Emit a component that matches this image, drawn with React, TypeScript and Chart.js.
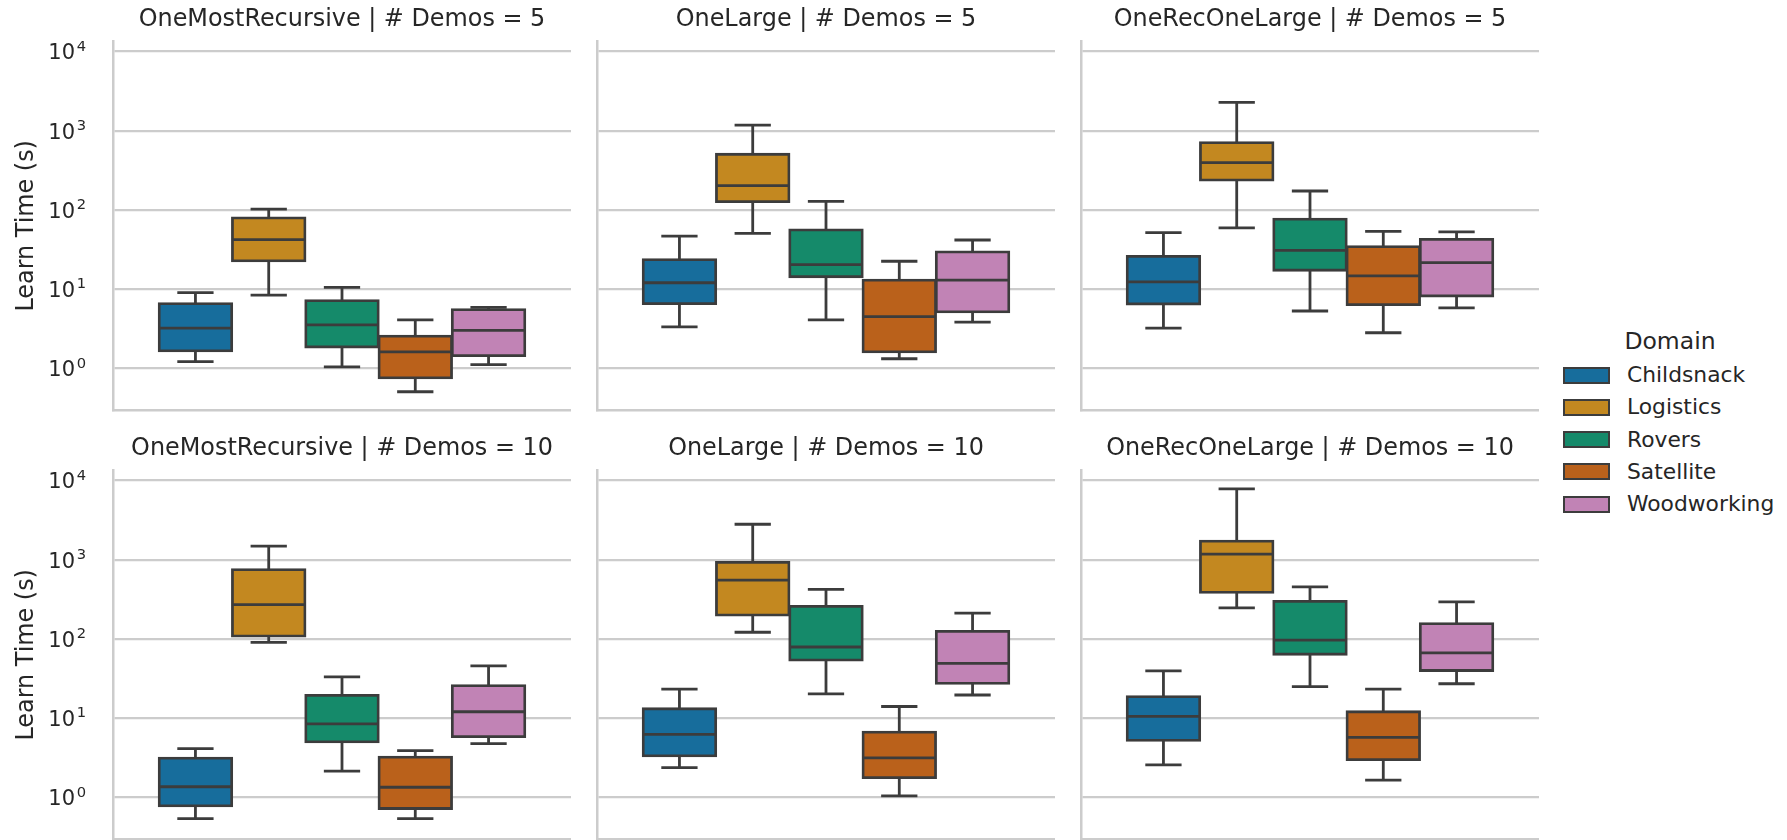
import React, { useEffect, useRef } from 'react';
import { Chart, registerables } from 'chart.js';

Chart.register(...registerables);

const DOMAINS = ['Childsnack', 'Logistics', 'Rovers', 'Satellite', 'Woodworking'];
const COLORS = ['#176d9c', '#c38820', '#158a6a', '#ba611b', '#c183b5'];
const PANEL_TITLES = [
  'OneMostRecursive | # Demos = 5',
  'OneLarge | # Demos = 5',
  'OneRecOneLarge | # Demos = 5',
  'OneMostRecursive | # Demos = 10',
  'OneLarge | # Demos = 10',
  'OneRecOneLarge | # Demos = 10',
];
const Y_TICKS = [1, 10, 100, 1000, 10000];
const TICK_BASE = '10';
const TICK_EXPONENTS = ['0', '1', '2', '3', '4'];
const Y_MIN = 0.321;
const Y_MAX = 13335;
const Y_LABEL = 'Learn Time (s)';
const LEGEND_TITLE = 'Domain';

// one row per panel, one value per domain
const WHISKER_LOW = [
  [1.22, 8.47, 1.05, 0.51, 1.12],
  [3.36, 50.7, 4.11, 1.33, 3.85],
  [3.24, 59.7, 5.33, 2.83, 5.82],
  [0.541, 90.8, 2.16, 0.541, 4.8],
  [2.38, 122, 20.3, 1.05, 19.7],
  [2.59, 247, 25.1, 1.66, 27.3],
];
const Q1 = [
  [1.67, 22.8, 1.87, 0.764, 1.46],
  [6.6, 128, 14.4, 1.62, 5.19],
  [6.53, 239, 17.4, 6.41, 8.23],
  [0.787, 109, 5.03, 0.728, 5.86],
  [3.36, 200, 54.1, 1.78, 27.6],
  [5.28, 388, 64.3, 3.02, 40.1],
];
const MEDIAN = [
  [3.24, 42.3, 3.56, 1.62, 3.03],
  [12.1, 203, 20.5, 4.53, 13.1],
  [12.4, 398, 31, 14.8, 21.7],
  [1.37, 272, 8.53, 1.35, 12.1],
  [6.27, 553, 79.4, 3.17, 49.5],
  [10.6, 1183, 97.1, 5.75, 66.8],
];
const Q3 = [
  [6.6, 79.8, 7.19, 2.57, 5.55],
  [23.7, 506, 56.4, 13.1, 29.6],
  [26.1, 708, 76.8, 34.5, 42.7],
  [3.14, 753, 19.5, 3.23, 25.8],
  [13.2, 931, 259, 6.71, 125],
  [18.8, 1720, 299, 12.1, 157],
];
const WHISKER_HIGH = [
  [9.06, 103, 10.6, 4.11, 5.93],
  [47, 1180, 129, 22.6, 41.9],
  [51.8, 2290, 174, 53.8, 53.2],
  [4.15, 1490, 33.4, 3.92, 45.9],
  [23.4, 2810, 423, 14.1, 212],
  [39.7, 7870, 457, 23.4, 294],
];

const FONT = 'DejaVu Sans';
const TEXT = '#262626';
const GRID = '#cccccc';
const LINE = '#3c3c3c';
const LW = 2.8;
const TITLE_SIZE = 23.9;
const TICK_SIZE = 21;
const SUP_SIZE = 14.7;
const PLOT_LEFTS = [113, 597, 1081];
const PLOT_W = 458;
const ROW_TOPS = [0, 429];
const CANVAS_H = 420;

const boxPlugin = {
  id: 'boxWhiskers',
  afterDatasetsDraw(chart: any, _args: any, opts: any) {
    const p = opts.panel;
    const y = chart.scales.y;
    const ctx = chart.ctx;
    ctx.save();
    ctx.strokeStyle = LINE;
    ctx.lineWidth = LW;
    ctx.lineCap = 'butt';
    chart.data.datasets.forEach((_ds: any, i: number) => {
      const bar = chart.getDatasetMeta(i).data[0];
      const x = bar.x;
      const w = bar.width;
      const ylo = y.getPixelForValue(WHISKER_LOW[p][i]);
      const yq1 = y.getPixelForValue(Q1[p][i]);
      const ymed = y.getPixelForValue(MEDIAN[p][i]);
      const yq3 = y.getPixelForValue(Q3[p][i]);
      const yhi = y.getPixelForValue(WHISKER_HIGH[p][i]);
      ctx.beginPath();
      ctx.moveTo(x, yq3);
      ctx.lineTo(x, yhi);
      ctx.moveTo(x, yq1);
      ctx.lineTo(x, ylo);
      ctx.moveTo(x - w / 4, yhi);
      ctx.lineTo(x + w / 4, yhi);
      ctx.moveTo(x - w / 4, ylo);
      ctx.lineTo(x + w / 4, ylo);
      ctx.moveTo(x - w / 2, ymed);
      ctx.lineTo(x + w / 2, ymed);
      ctx.stroke();
    });
    ctx.restore();
  },
};

// power-of-ten tick labels with a raised exponent, placed by the y scale
const logTickPlugin = {
  id: 'logTicks',
  afterDraw(chart: any, _args: any, opts: any) {
    if (!opts.show) return;
    const y = chart.scales.y;
    const ctx = chart.ctx;
    ctx.save();
    ctx.fillStyle = TEXT;
    ctx.textAlign = 'right';
    ctx.textBaseline = 'alphabetic';
    Y_TICKS.forEach((v, i) => {
      const py = y.getPixelForValue(v);
      ctx.font = `${TICK_SIZE}px "${FONT}"`;
      ctx.fillText(TICK_BASE, y.right - 38, py + 7.7);
      ctx.font = `${SUP_SIZE}px "${FONT}"`;
      ctx.fillText(TICK_EXPONENTS[i], y.right - 27, py - 1);
    });
    ctx.restore();
  },
};

function Panel({ p }: { p: number }) {
  const ref = useRef<HTMLCanvasElement>(null);
  const r = Math.floor(p / 3);
  const c = p % 3;
  const axisW = c === 0 ? 113 : 4;
  const left = PLOT_LEFTS[c] - axisW;
  const top = ROW_TOPS[r];
  const w = axisW + PLOT_W;

  useEffect(() => {
    const chart = new Chart(ref.current as HTMLCanvasElement, {
      type: 'bar',
      data: {
        labels: [''],
        datasets: DOMAINS.map((d, i) => ({
          label: d,
          data: [[Q1[p][i], Q3[p][i]]],
          backgroundColor: COLORS[i],
          borderColor: LINE,
          borderWidth: LW,
          borderSkipped: false,
          inflateAmount: LW / 2,
          barPercentage: 0.99,
          categoryPercentage: 0.8,
        })),
      } as any,
      options: {
        animation: false,
        responsive: true,
        maintainAspectRatio: false,
        devicePixelRatio: 1,
        layout: { padding: { top: 0, right: 0, bottom: 10, left: 0 } },
        plugins: {
          legend: { display: false },
          tooltip: { enabled: false },
          title: {
            display: true,
            text: PANEL_TITLES[p],
            fullSize: false,
            color: TEXT,
            font: { family: FONT, size: TITLE_SIZE, weight: 'normal', lineHeight: 1.2 },
            padding: { top: 5.8, bottom: 7.2 },
          },
          boxWhiskers: { panel: p },
          logTicks: { show: c === 0 },
        } as any,
        scales: {
          x: {
            type: 'category',
            offset: true,
            grid: { display: false, drawTicks: false },
            ticks: { display: false },
            border: { display: true, color: GRID, width: 2.5 },
            afterFit: (s: any) => {
              s.height = 0;
            },
          },
          y: {
            type: 'logarithmic',
            min: Y_MIN,
            max: Y_MAX,
            afterBuildTicks: (s: any) => {
              s.ticks = Y_TICKS.map((v) => ({ value: v }));
            },
            grid: { color: GRID, lineWidth: 2.2, drawTicks: false },
            border: { display: true, color: GRID, width: 2.5 },
            ticks: { display: false },
            title: {
              display: c === 0,
              text: Y_LABEL,
              color: TEXT,
              font: { family: FONT, size: TITLE_SIZE, lineHeight: 1.2 },
              padding: { top: 12.5, bottom: 0 },
            },
            afterFit: (s: any) => {
              s.width = axisW;
              s.paddingTop = 0;
              s.paddingBottom = 0;
            },
          },
        } as any,
      },
      plugins: [boxPlugin, logTickPlugin],
    } as any);
    return () => chart.destroy();
  }, [p]);

  return (
    <div style={{ position: 'absolute', left, top, width: w, height: CANVAS_H }}>
      <canvas ref={ref} />
    </div>
  );
}

function Legend() {
  const rowY = (i: number) => 375 + i * 32.3;
  return (
    <>
      <div
        style={{
          position: 'absolute',
          left: 1570,
          top: 327,
          width: 200,
          textAlign: 'center',
          fontFamily: FONT,
          fontSize: 23.5,
          lineHeight: '28px',
          color: TEXT,
          whiteSpace: 'nowrap',
        }}
      >
        {LEGEND_TITLE}
      </div>
      {DOMAINS.map((d, i) => (
        <React.Fragment key={d}>
          <div
            style={{
              position: 'absolute',
              left: 1563,
              top: rowY(i) - 8.5,
              width: 47,
              height: 17,
              boxSizing: 'border-box',
              background: COLORS[i],
              border: `2.5px solid ${LINE}`,
            }}
          />
          <div
            style={{
              position: 'absolute',
              left: 1627,
              top: rowY(i) - 14,
              fontFamily: FONT,
              fontSize: 21.8,
              lineHeight: '28px',
              color: TEXT,
              whiteSpace: 'nowrap',
            }}
          >
            {d}
          </div>
        </React.Fragment>
      ))}
    </>
  );
}

export default function App() {
  return (
    <div
      style={{
        position: 'fixed',
        left: 0,
        top: 0,
        width: 1787,
        height: 840,
        overflow: 'hidden',
        background: '#ffffff',
      }}
    >
      {[0, 1, 2, 3, 4, 5].map((p) => (
        <Panel key={p} p={p} />
      ))}
      <Legend />
    </div>
  );
}
